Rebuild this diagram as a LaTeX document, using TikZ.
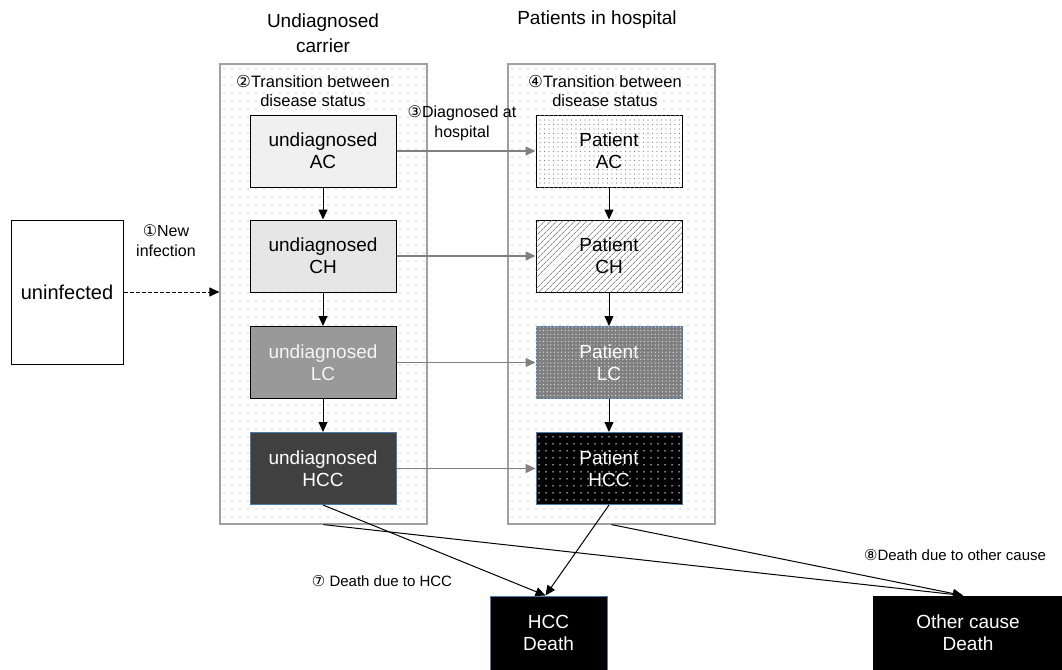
\documentclass[tikz,border=0pt]{standalone}
\usepackage{fontspec}
\setmainfont{Liberation Sans}
\newfontfamily\circfont{DejaVu Sans}
\usetikzlibrary{calc}
\usetikzlibrary{arrows.meta}
\usetikzlibrary{patterns.meta}
\definecolor{edgeblue}{HTML}{4F7AA8}
\definecolor{acfill}{HTML}{F0F0F0}
\definecolor{chfill}{HTML}{E6E6E6}
\definecolor{lcfill}{HTML}{999999}
\definecolor{hccfill}{HTML}{404040}
\definecolor{arrowgray}{HTML}{808080}
\definecolor{boxgray}{HTML}{A0A0A0}

\begin{document}
\begin{tikzpicture}[x=1pt, y=-1pt,
 every text node part/.style={align=center},
str/.style={inner sep=0pt, font=\fontsize{15}{18.5}\selectfont},
title/.style={inner sep=0pt, font=\fontsize{19}{25}\selectfont},
group/.style={rectangle, draw=boxgray, line width=1.2pt, fill=white, minimum width=207pt, minimum height=460pt, postaction={pattern color=gray!75, pattern={Dots[distance=8pt, radius=0.65pt]}}},
state/.style={rectangle, draw=black, line width=1pt, inner sep=0pt, minimum width=146pt, minimum height=72pt, font=\fontsize{19}{22}\selectfont},
arrow/.style={-{Triangle[length=10pt, width=9pt]}, line width=1pt},
garrow/.style={-{Triangle[length=10pt, width=9pt]}, line width=1.2pt, arrowgray}]

\useasboundingbox (0, 0) rectangle (1062, 669);

\node[title] (tU) at (323, 33) {Undiagnosed\\carrier};
\node[title] (tP) at (597, 20) {Patients in hospital};

\node[group] (gU) at (323.5, 294) {};
\node[group] (gP) at (611.5, 294) {};

\node[str, font=\fontsize{16.5}{18.5}\selectfont] (tr2) at (313, 91) {{\circfont ②}Transition between\\disease status};
\node[str, font=\fontsize{16.5}{18.5}\selectfont] (tr4) at (605, 91) {{\circfont ④}Transition between\\disease status};

\node[state, minimum width=112pt, minimum height=144pt, font=\fontsize{20}{22}\selectfont] (uninf) at (67, 292) {uninfected};
\node[str, font=\fontsize{16}{20}\selectfont] (newinf) at (166, 241) {{\circfont ①}New\\infection};

\node[state, fill=acfill] (uAC) at (323, 151) {undiagnosed\\AC};
\node[state, fill=chfill] (uCH) at (323, 256) {undiagnosed\\CH};
\node[state, fill=lcfill, text=white!92!gray] (uLC) at (323, 362.5) {undiagnosed\\LC};
\node[state, fill=hccfill, draw=edgeblue, text=white] (uHCC) at (323, 468.5) {undiagnosed\\HCC};

\node[state, fill=white, postaction={pattern color=gray, pattern={Dots[distance=4.5pt, radius=0.55pt]}}] (pAC) at (609, 151) {Patient\\AC};
\node[state, fill=white, postaction={pattern color=black!70, pattern={Lines[angle=45, distance=4pt, line width=0.5pt]}}] (pCH) at (609, 256) {Patient\\CH};
\node[state, fill=arrowgray, draw=edgeblue, text=white, postaction={pattern color=white!85!gray, pattern={Dots[distance=3.6pt, radius=0.6pt]}}] (pLC) at (609, 362.5) {Patient\\LC};
\node[state, fill=black, draw=edgeblue, text=white, postaction={pattern color=white, pattern={Dots[distance=6.5pt, radius=0.8pt]}}] (pHCC) at (609, 468.5) {Patient\\HCC};

\node[str, font=\fontsize{16}{20}\selectfont] (diag) at (462, 123) {{\circfont ③}Diagnosed at\\hospital};

\node[state, fill=black, draw=edgeblue, text=white, minimum width=117pt, minimum height=74pt] (hccD) at (548.5, 633) {HCC\\Death};
\node[state, fill=black, text=white, minimum width=190pt, minimum height=74pt] (othD) at (968, 633) {Other cause\\Death};

\node[str] (dHCC) at (382, 581) {{\circfont ⑦} Death due to HCC};
\node[str] (dOth) at (955, 555) {{\circfont ⑧}Death due to other cause};

\draw (uninf.east) edge[arrow, dash pattern=on 4pt off 2pt] (uninf.east -| gU.west);

\draw (uAC) edge[arrow] (uCH);
\draw (uCH) edge[arrow] (uLC);
\draw (uLC) edge[arrow] (uHCC);
\draw (pAC) edge[arrow] (pCH);
\draw (pCH) edge[arrow] (pLC);
\draw (pLC) edge[arrow] (pHCC);

\draw (uAC) edge[garrow] (pAC);
\draw (uCH) edge[garrow] (pCH);
\draw (uLC) edge[garrow] (pLC);
\draw (uHCC) edge[garrow] (pHCC);

\draw (uHCC.south) edge[arrow] ($(hccD.north) + (-3, 0)$);
\draw (pHCC.south) edge[arrow] ($(hccD.north) + (-3, 0)$);
\draw (gU.south) edge[arrow] ($(othD.north) + (-5, 0)$);
\draw (gP.south) edge[arrow] ($(othD.north) + (-5, 0)$);

\end{tikzpicture}
\end{document}
